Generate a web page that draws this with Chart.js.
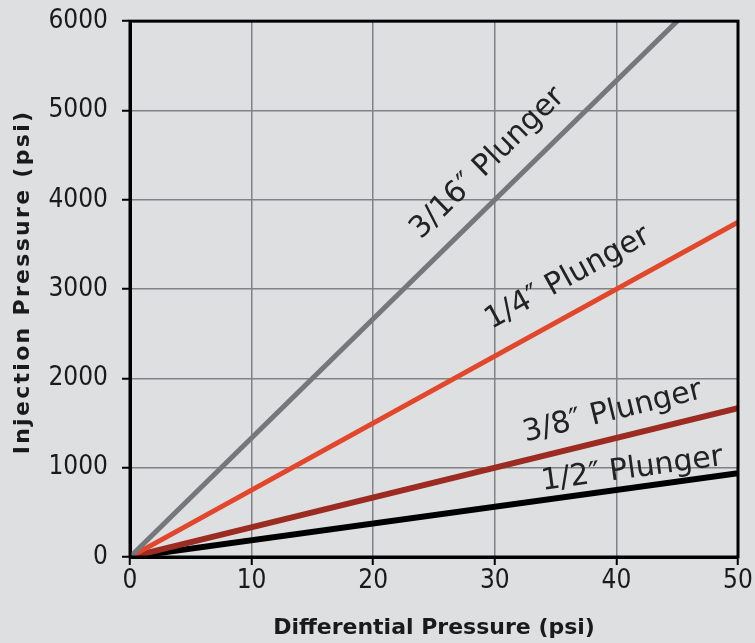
<!DOCTYPE html>
<html>
<head>
<meta charset="utf-8">
<script src="https://cdn.jsdelivr.net/npm/chart.js@4.4.1/dist/chart.umd.min.js"></script>
<style>
    body { margin: 0; background: #dedfe1; }
    #wrap { width: 755px; height: 643px; }
</style>
</head>
<body>
<div id="wrap"><canvas id="pressureChart" width="755" height="643"></canvas></div>
<script>
// Chart data
const diffPressure = [0, 50];
const plunger316 = [0, 6667];
const plunger14 = [0, 3750];
const plunger38 = [0, 1667];
const plunger12 = [0, 937.5];
const seriesNames = ['3/16\u2033 Plunger', '1/4\u2033 Plunger', '3/8\u2033 Plunger', '1/2\u2033 Plunger'];
const xTicks = [0, 10, 20, 30, 40, 50];
const yTicks = [0, 1000, 2000, 3000, 4000, 5000, 6000];
const yTitle = 'Injection Pressure (psi)';
const xTitle = 'Differential Pressure (psi)';

// where each line label sits (x value along the line, px off the line)
const labelPlace = [
    { at: 31.2, off: 31 },
    { at: 37.3, off: 33 },
    { at: 40.2, off: 26 },
    { at: 41.5, off: 18 }
];

const FONT = '"DejaVu Sans Condensed", "DejaVu Sans", Verdana, sans-serif';
const WIDE = '"DejaVu Sans", Verdana, sans-serif';

function toPoints(ys) {
    return diffPressure.map((x, i) => ({ x: x, y: ys[i] }));
}

const lineLabels = {
    id: 'lineLabels',
    afterDatasetsDraw(chart) {
        const { ctx, chartArea, scales: { x, y } } = chart;
        ctx.save();
        // frame round the plot
        ctx.strokeStyle = '#000';
        ctx.lineWidth = 3;
        ctx.strokeRect(chartArea.left, chartArea.top, chartArea.right - chartArea.left, chartArea.bottom - chartArea.top);

        // y title, spaced out like the original
        ctx.save();
        ctx.font = 'bold 22px ' + WIDE;
        ctx.letterSpacing = '2.3px';
        ctx.fillStyle = '#1a1a1a';
        ctx.textAlign = 'center';
        ctx.textBaseline = 'middle';
        ctx.translate(23, 282);
        ctx.rotate(-Math.PI / 2);
        ctx.fillText(yTitle, 0, 0);
        ctx.restore();

        ctx.font = '30px ' + WIDE;
        ctx.fillStyle = '#222';
        ctx.textAlign = 'center';
        ctx.textBaseline = 'middle';
        chart.data.datasets.forEach((ds, i) => {
            const p0 = ds.data[0], p1 = ds.data[ds.data.length - 1];
            const x0 = x.getPixelForValue(p0.x), y0 = y.getPixelForValue(p0.y);
            const x1 = x.getPixelForValue(p1.x), y1 = y.getPixelForValue(p1.y);
            const ang = Math.atan2(y1 - y0, x1 - x0);
            const t = labelPlace[i].at;
            const yv = p0.y + (p1.y - p0.y) * (t - p0.x) / (p1.x - p0.x);
            const px = x.getPixelForValue(t) + Math.sin(ang) * labelPlace[i].off;
            const py = y.getPixelForValue(yv) - Math.cos(ang) * labelPlace[i].off;
            ctx.save();
            ctx.translate(px, py);
            ctx.rotate(ang);
            ctx.fillText(seriesNames[i], 0, 0);
            ctx.restore();
        });
        ctx.restore();
    }
};

const axisFont = { family: FONT, size: 26 };
const titleFont = { family: WIDE, size: 22, weight: 'bold' };

new Chart(document.getElementById('pressureChart'), {
    type: 'scatter',
    data: {
        datasets: [
            { data: toPoints(plunger316), borderColor: '#75787b', borderWidth: 5 },
            { data: toPoints(plunger14), borderColor: '#e2472b', borderWidth: 5 },
            { data: toPoints(plunger38), borderColor: '#9c2b22', borderWidth: 6 },
            { data: toPoints(plunger12), borderColor: '#000000', borderWidth: 6 }
        ].map(ds => Object.assign(ds, { showLine: true, pointRadius: 0, tension: 0 }))
    },
    options: {
        responsive: false,
        animation: false,
        layout: { padding: { top: 6, right: 17, bottom: 0, left: 0 } },
        plugins: { legend: { display: false }, tooltip: { enabled: false } },
        scales: {
            x: {
                type: 'linear',
                min: 0,
                max: 50,
                afterBuildTicks: axis => { axis.ticks = xTicks.map(v => ({ value: v })); },
                afterFit: axis => { axis.height = 86; },
                ticks: { color: '#1a1a1a', font: axisFont, padding: 1, maxRotation: 0, callback: v => String(v) },
                grid: { color: '#808285', lineWidth: 1.5, tickLength: 8, tickColor: '#000', tickWidth: 2 },
                border: { color: '#000', width: 3 },
                title: { display: true, text: xTitle, color: '#1a1a1a', font: titleFont, padding: { top: 0, bottom: 2 } }
            },
            y: {
                type: 'linear',
                min: 0,
                max: 6000,
                afterBuildTicks: axis => { axis.ticks = yTicks.map(v => ({ value: v })); },
                afterFit: axis => { axis.width = 130; },
                ticks: { color: '#1a1a1a', font: { family: FONT, size: 26, lineHeight: 0.55 }, padding: 14, callback: v => String(v) },
                grid: { color: '#808285', lineWidth: 1.5, tickLength: 8, tickColor: '#000', tickWidth: 2 },
                border: { color: '#000', width: 3 },
                title: { display: false }
            }
        }
    },
    plugins: [lineLabels]
});
</script>
</body>
</html>
